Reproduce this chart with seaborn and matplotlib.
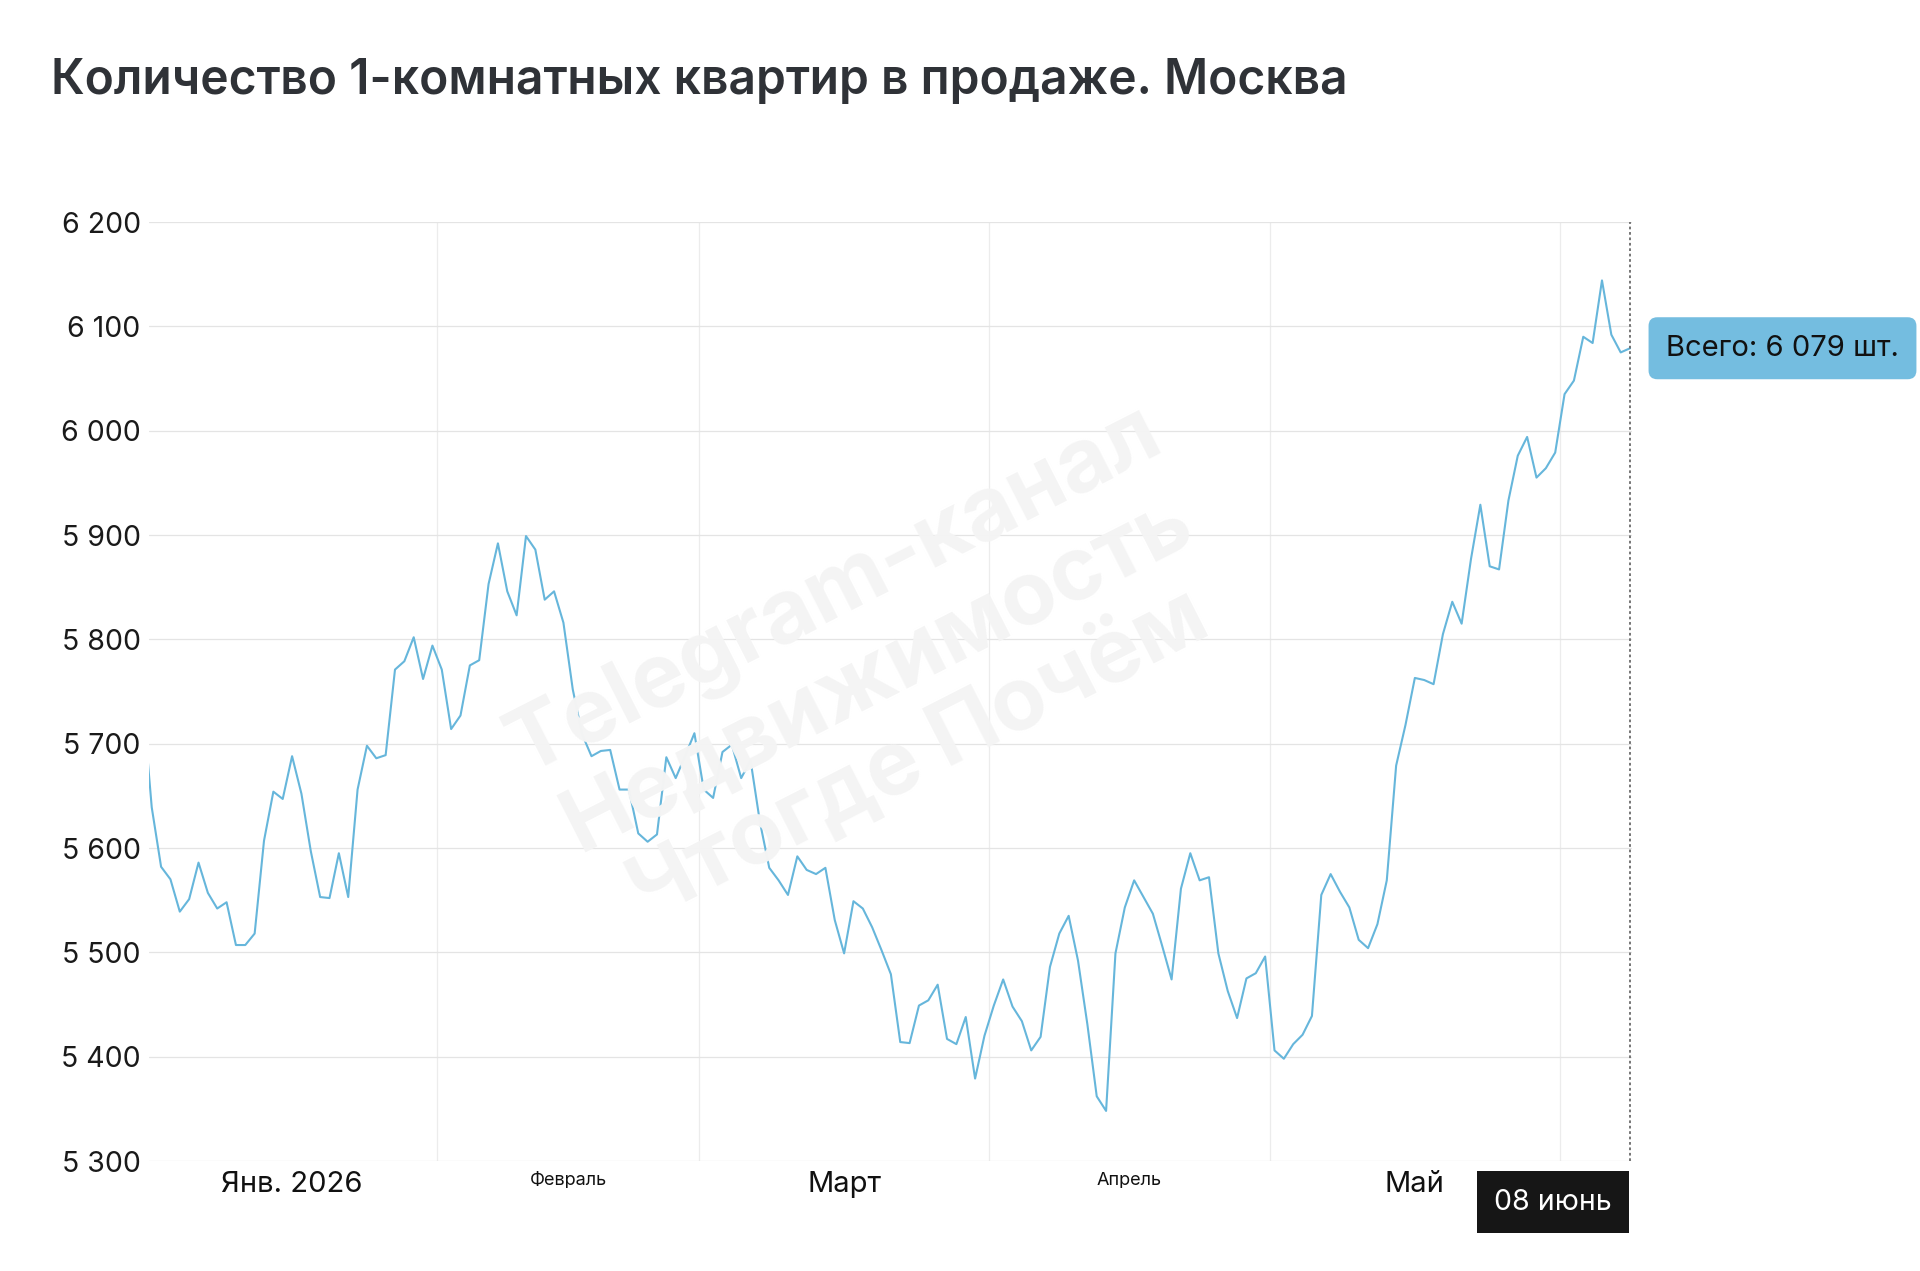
import matplotlib
matplotlib.use("Agg")
import matplotlib.pyplot as plt
import matplotlib.transforms as mtransforms
import matplotlib.dates as mdates
import seaborn as sns
import pandas as pd

# daily count of 1-room flats on sale, Dec 31 2025 .. Jun 8 2026
dates = pd.date_range("2025-12-31", "2026-06-08", freq="D")
values = [
    5745,
    5639, 5582, 5570, 5539, 5551, 5586, 5557, 5542, 5548, 5507,
    5507, 5518, 5607, 5654, 5647, 5688, 5652, 5597, 5553, 5552,
    5595, 5553, 5656, 5698, 5686, 5689, 5771, 5779, 5802, 5762,
    5794, 5771, 5714, 5727, 5775, 5780, 5853, 5892, 5846, 5823,
    5899, 5886, 5838, 5846, 5816, 5752, 5709, 5688, 5693, 5694,
    5656, 5656, 5614, 5606, 5613, 5687, 5667, 5688, 5710, 5656,
    5648, 5692, 5699, 5667, 5684, 5625, 5581, 5569, 5555, 5592,
    5579, 5575, 5581, 5531, 5499, 5549, 5542, 5524, 5502, 5479,
    5414, 5413, 5449, 5454, 5469, 5417, 5412, 5438, 5379, 5420,
    5449, 5474, 5448, 5434, 5406, 5419, 5486, 5518, 5535, 5492,
    5431, 5362, 5348, 5499, 5543, 5569, 5553, 5537, 5506, 5474,
    5561, 5595, 5569, 5572, 5499, 5463, 5437, 5475, 5480, 5496,
    5406, 5398, 5412, 5421, 5439, 5555, 5575, 5558, 5543, 5512,
    5504, 5527, 5569, 5679, 5718, 5763, 5761, 5757, 5805, 5836,
    5815, 5877, 5929, 5870, 5867, 5933, 5976, 5994, 5955, 5964,
    5979, 6035, 6048, 6090, 6084, 6144, 6092, 6075, 6079,
]
month_starts = ["2026-01-01", "2026-02-01", "2026-03-01", "2026-04-01", "2026-05-01", "2026-06-01"]
month_labels = ["Янв. 2026", "Февраль", "Март", "Апрель", "Май"]
y_ticks = [5300, 5400, 5500, 5600, 5700, 5800, 5900, 6000, 6100, 6200]

title = "Количество 1-комнатных квартир в продаже. Москва"
last_label = "08 июнь"
watermark = "Telegram-канал\nНедвижимость\nЧтогде Почём"

df = pd.DataFrame({"date": dates, "count": values})

sns.set_theme(style="white")
plt.rcParams["font.family"] = ["Inter", "DejaVu Sans"]

fig = plt.figure(figsize=(19.2, 12.71), dpi=100)
ax = fig.add_axes([149 / 1920, 1 - 1161 / 1271, (1632 - 149) / 1920, (1161 - 222) / 1271])

# watermark behind everything
fig.text(0.457, 0.47, watermark, fontsize=64, fontweight="bold", color="#f4f4f4",
         rotation=27, ha="center", va="center", multialignment="center",
         linespacing=1.16, zorder=0)
ax.set_facecolor("none")

line_color = "#66b6db"
sns.lineplot(data=df, x="date", y="count", ax=ax, color=line_color, lw=1.5)

ax.set_ylim(5300, 6200)
last_date = df["date"].iloc[-1]
last_num = mdates.date2num(last_date)
ax.set_xlim(pd.Timestamp("2026-01-01") - pd.Timedelta(hours=7), last_date + pd.Timedelta(hours=5))

ax.set_yticks(y_ticks)
ax.set_yticklabels([f"{v:,}".replace(",", " ") for v in y_ticks])
ax.tick_params(axis="y", length=0, pad=6, labelsize=20.5, labelcolor="#1a1a1a")
ax.grid(axis="y", color="#e4e4e4", lw=0.9)

# month boundaries (gridlines sit half a day before the points)
boundaries = [pd.Timestamp(d) - pd.Timedelta(hours=12) for d in month_starts]
for b in boundaries[1:]:
    ax.axvline(b, color="#ececec", lw=0.9, zorder=0)
ax.set_xticks([])
ax.set_xlabel("")
ax.set_ylabel("")
for s in ax.spines.values():
    s.set_visible(False)

# month labels centred inside each month
trans = mtransforms.blended_transform_factory(ax.transData, ax.transAxes)
for i, lab in enumerate(month_labels):
    start = pd.Timestamp(month_starts[i])
    end = pd.Timestamp(month_starts[i + 1])
    mid = mdates.date2num(start + (end - start) / 2 - pd.Timedelta(hours=12))
    big = i % 2 == 0
    ax.text(mid, -24 / 939 if big else -19 / 939, lab, transform=trans,
            ha="center", va="center", fontsize=21 if big else 13, color="#111111")

# dotted crosshair at the last day
ax.axvline(last_date, color="#6a6a6a", lw=1.3, ls=(0, (1.5, 1.5)), zorder=3)

# date box under the axis
ax.annotate(last_label, xy=(last_num, 0), xycoords=trans,
            xytext=(-18, -41), textcoords="offset pixels", ha="right", va="center",
            fontsize=20.5, color="white", annotation_clip=False,
            bbox=dict(boxstyle="square,pad=0.6", fc="#161616", ec="none"))

# tooltip with the last value
last_value = df["count"].iloc[-1]
ax.annotate(f"Всего: {last_value:,} шт.".replace(",", " "), xy=(last_num, last_value),
            xytext=(36, 0), textcoords="offset pixels", ha="left", va="center",
            fontsize=21, color="#111111", annotation_clip=False,
            bbox=dict(boxstyle="round,pad=0.6,rounding_size=0.3", fc="#74bde0", ec="none"))

fig.text(51 / 1920, 1 - 81 / 1271, title, fontsize=34.5, fontweight="semibold",
         color="#2f3237", ha="left", va="center")

fig.savefig("out.png", dpi=100, facecolor="white")
